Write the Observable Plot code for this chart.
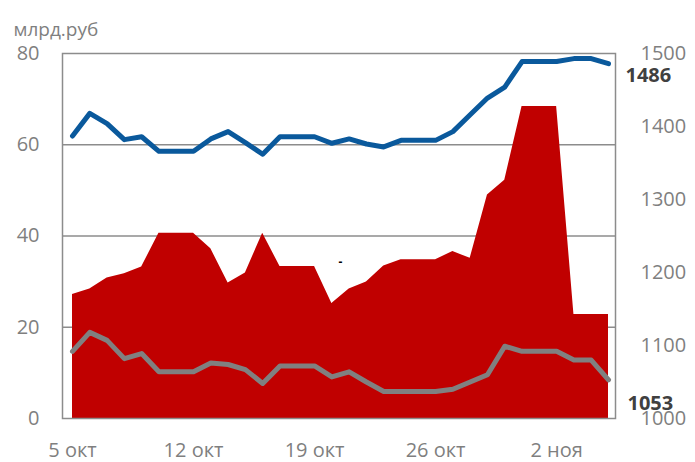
<!DOCTYPE html>
<html>
<head>
<meta charset="utf-8">
<script src="https://cdn.jsdelivr.net/npm/d3@7"></script>
<script src="https://cdn.jsdelivr.net/npm/@observablehq/plot@0.6"></script>
<style>
  html, body { margin: 0; padding: 0; background: #fff; }
  #chart svg { display: block; }
</style>
</head>
<body>
<div id="chart"></div>
<script>
// Daily dates, 5 Oct .. 5 Nov
const startDate = new Date(Date.UTC(2015, 9, 5));
const dayCount = 32;
const dates = d3.range(dayCount).map(i => d3.utcDay.offset(startDate, i));

// Red area (left axis, млрд.руб)
const redValues = [27.2, 28.4, 30.8, 31.7, 33.2, 40.6, 40.6, 40.6, 37.2, 29.7, 31.9, 40.6, 33.3, 33.3, 33.3, 25.2,
                   28.4, 29.9, 33.4, 34.8, 34.8, 34.8, 36.6, 35.1, 49.0, 52.2, 68.4, 68.4, 68.4, 22.8, 22.8, 22.8];
// Blue line (right axis)
const blueValues = [1387, 1418, 1404, 1382, 1386, 1366, 1366, 1366, 1383, 1393, 1378, 1362, 1386, 1386, 1386, 1377,
                    1383, 1376, 1372, 1381, 1381, 1381, 1393, 1416, 1439, 1454, 1489, 1489, 1489, 1493, 1493, 1486];
// Grey line (right axis)
const greyValues = [1092, 1118, 1107, 1082, 1089, 1064, 1064, 1064, 1076, 1074, 1067, 1048, 1072, 1072, 1072, 1057,
                    1064, 1050, 1037, 1037, 1037, 1037, 1040, 1050, 1060, 1099, 1092, 1092, 1092, 1080, 1080, 1053];

const leftTicks = [0, 20, 40, 60, 80];
const rightTicks = [1000, 1100, 1200, 1300, 1400, 1500];
const xTickDates = [new Date(Date.UTC(2015, 9, 5)), new Date(Date.UTC(2015, 9, 12)), new Date(Date.UTC(2015, 9, 19)),
                    new Date(Date.UTC(2015, 9, 26)), new Date(Date.UTC(2015, 10, 2))];
const monthNames = ["янв", "фев", "мар", "апр", "мая", "июн", "июл", "авг", "сен", "окт", "ноя", "дек"];
const unitLabel = "млрд.руб";

// right axis (1000..1500) mapped onto left axis (0..80)
const rMin = 1000, rMax = 1500, lMax = 80;
const toLeft = v => (v - rMin) / (rMax - rMin) * lMax;
const fromLeft = v => v / lMax * (rMax - rMin) + rMin;

const data = dates.map((d, i) => ({date: d, red: redValues[i], blue: blueValues[i], grey: greyValues[i]}));
const last = data[data.length - 1];

const plot = Plot.plot({
  width: 695,
  height: 462,
  marginLeft: 62,
  marginRight: 80,
  marginTop: 53,
  marginBottom: 44,
  style: {fontFamily: "'Open Sans', sans-serif", fontSize: "20px", color: "#7f7f7f", background: "#fff"},
  x: {type: "utc", domain: [dates[0], dates[dates.length - 1]], range: [72, 608]},
  y: {domain: [0, 80]},
  marks: [
    Plot.ruleY([20, 40, 60], {stroke: "#8c8c8c", strokeWidth: 1.5}),
    Plot.areaY(data, {x: "date", y: "red", fill: "#c00000"}),
    Plot.frame({stroke: "#8c8c8c", strokeWidth: 1.5}),
    Plot.lineY(data, {x: "date", y: d => toLeft(d.blue), stroke: "#0a599c", strokeWidth: 5, strokeLinejoin: "round", strokeLinecap: "round"}),
    Plot.lineY(data, {x: "date", y: d => toLeft(d.grey), stroke: "#808080", strokeWidth: 5, strokeLinejoin: "round", strokeLinecap: "round"}),
    Plot.axisY({anchor: "left", ticks: leftTicks, tickSize: 0, tickPadding: 23, label: null, fill: "#7f7f7f"}),
    Plot.axisY({anchor: "right", ticks: rightTicks.map(toLeft), tickFormat: v => String(Math.round(fromLeft(v))), tickSize: 0, tickPadding: 25, label: null, fill: "#7f7f7f"}),
    Plot.axisX({ticks: xTickDates, tickFormat: d => `${d.getUTCDate()} ${monthNames[d.getUTCMonth()]}`, tickSize: 0, tickPadding: 24, label: null, fill: "#7f7f7f"}),
    Plot.text([last], {x: "date", y: d => toLeft(d.blue), text: d => String(d.blue), dx: 17, dy: 12, textAnchor: "start", fontWeight: "bold", fill: "#404040", fontSize: 20}),
    Plot.text([last], {x: "date", y: d => toLeft(d.grey), text: d => String(d.grey), dx: 19, dy: 24, textAnchor: "start", fontWeight: "bold", fill: "#404040", fontSize: 20}),
    Plot.text([{date: new Date(Date.UTC(2015, 9, 20, 12)), v: 34.3}], {x: "date", y: "v", text: () => "-", fill: "#000", fontSize: 12, fontWeight: "bold"}),
    Plot.text([unitLabel], {frameAnchor: "top-left", dx: -49, dy: -31, textAnchor: "start", fill: "#7f7f7f", fontSize: 19})
  ]
});
document.getElementById("chart").appendChild(plot);
</script>
</body>
</html>
